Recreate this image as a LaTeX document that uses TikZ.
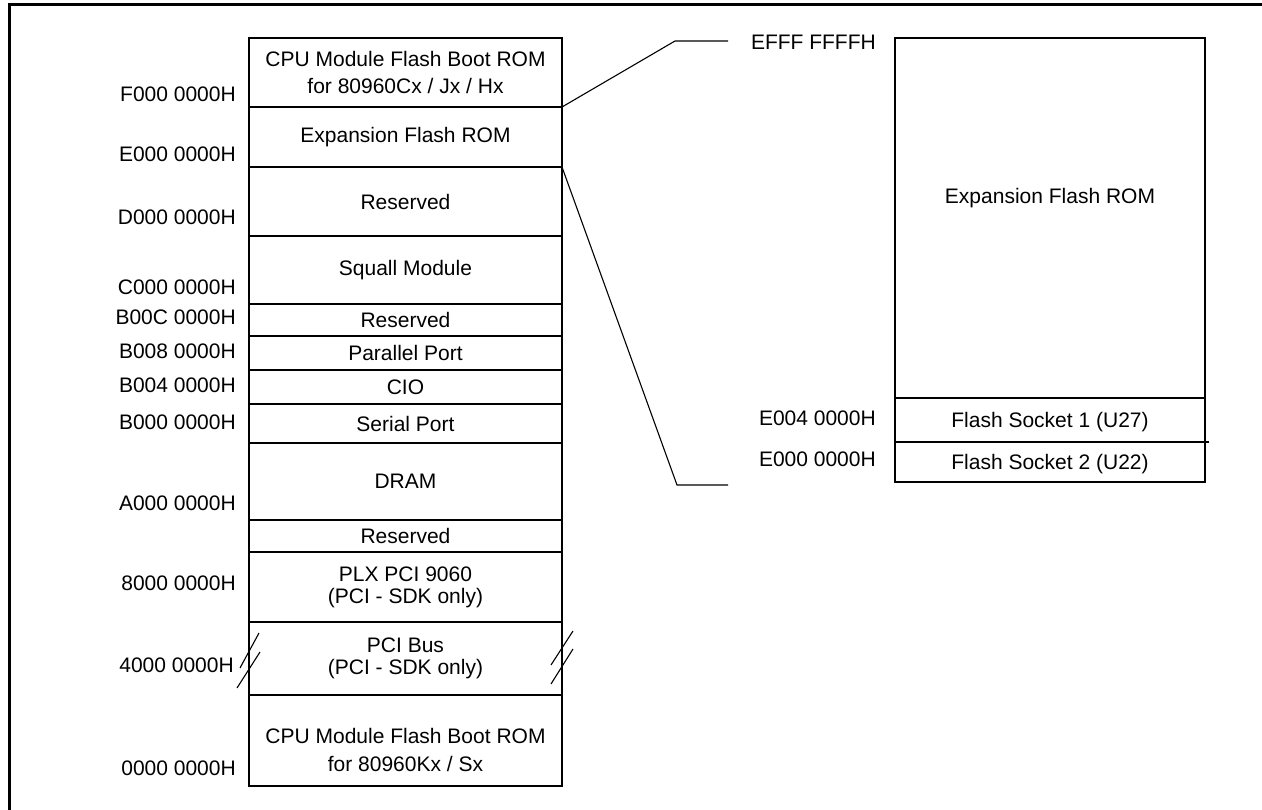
\documentclass[tikz,border=0pt]{standalone}
\usepackage{fontspec}
\setmainfont{Liberation Sans}
\newcommand\mapfont{\fontsize{21pt}{22pt}\selectfont}
\begin{document}
\begin{tikzpicture}[x=1pt,y=-1pt,
  region/.style={draw,line width=1.8pt,minimum width=313pt,inner sep=0pt,outer sep=0pt,anchor=north west,align=center,font=\mapfont},
  rregion/.style={draw,line width=1.8pt,minimum width=310pt,inner sep=0pt,outer sep=0pt,anchor=north west,align=center,font=\mapfont},
  addr/.style={anchor=mid east,inner sep=0pt,font=\mapfont},
  txt/.style={inner sep=0pt,align=center,font=\mapfont},
  conn/.style={line width=1.1pt},
  brk/.style={line width=1.1pt},
  frame/.style={line width=3pt}]
\useasboundingbox (0,0) rectangle (1262,810);
% outer frame
\coordinate (fbl) at (9,812);
\coordinate (ftl) at (9,5);
\coordinate (ftr) at (1264,5);
\draw[frame] (fbl) -- (ftl) -- (ftr);

% left memory map
\node[region,minimum height=69pt] (cpuh) at (249,38) {CPU Module Flash Boot ROM\\[5pt]for 80960Cx / Jx / Hx};
\node[region,minimum height=60pt] (exp) at (249,107) {Expansion Flash ROM};
\node[region,minimum height=69pt] (res1) at (249,167) {Reserved};
\node[region,minimum height=68pt] (squall) at (249,236) {Squall Module};
\node[region,minimum height=32pt] (res2) at (249,304) {Reserved};
\node[region,minimum height=34pt] (par) at (249,336) {Parallel Port};
\node[region,minimum height=34pt] (cio) at (249,370) {CIO};
\node[region,minimum height=39pt] (ser) at (249,404) {Serial Port};
\node[region,minimum height=77pt] (dram) at (249,443) {DRAM};
\node[region,minimum height=32pt] (res3) at (249,520) {Reserved};
\node[region,minimum height=70pt] (plx) at (249,552) {PLX PCI 9060\\(PCI - SDK only)};
\node[region,minimum height=73pt] (pci) at (249,622) {PCI Bus\\(PCI - SDK only)};
\node[region,minimum height=91pt] (cpul) at (249,695) {};
\node[txt] (cpultxt) at ([yshift=-9pt]cpul.center) {CPU Module Flash Boot ROM\\[6pt]for 80960Kx / Sx};

% addresses
\node[addr] (aF) at (236,99) {F000 0000H};
\node[addr] (aE) at (236,159) {E000 0000H};
\node[addr] (aD) at (236,222) {D000 0000H};
\node[addr] (aC) at (236,292) {C000 0000H};
\node[addr] (aBC) at (236,322) {B00C 0000H};
\node[addr] (aB8) at (236,356) {B008 0000H};
\node[addr] (aB4) at (236,390) {B004 0000H};
\node[addr] (aB0) at (236,427) {B000 0000H};
\node[addr] (aA) at (236,508) {A000 0000H};
\node[addr] (a8) at (236,588) {8000 0000H};
\node[addr] (a4) at (234,670) {4000 0000H};
\node[addr] (a0) at (236,773) {0000 0000H};

% break marks
\coordinate (bl1a) at (259,633); \coordinate (bl1b) at (240,668);
\coordinate (bl2a) at (260,652); \coordinate (bl2b) at (237,688);
\coordinate (br1a) at (573,631); \coordinate (br1b) at (551,665);
\coordinate (br2a) at (573,649); \coordinate (br2b) at (551,684);
\draw[brk] (bl1a) -- (bl1b);
\draw[brk] (bl2a) -- (bl2b);
\draw[brk] (br1a) -- (br1b);
\draw[brk] (br2a) -- (br2b);

% right detail
\node[rregion,minimum height=360pt] (rexp) at (895,38) {};
\node[txt] (rexptxt) at ([yshift=20pt]rexp.center) {Expansion Flash ROM};
\node[rregion,minimum height=44pt] (sock1) at (895,398) {};
\node[txt] (sock1txt) at ([yshift=-2pt]sock1.center) {Flash Socket 1 (U27)};
\node[rregion,minimum height=40pt] (sock2) at (895,442) {};
\node[txt] (sock2txt) at ([yshift=-2pt]sock2.center) {Flash Socket 2 (U22)};
\coordinate (sockext) at (1209,442);
\draw[line width=1.8pt] (sock1.south east) -- (sockext);

\node[addr] (rEF) at (876,47) {EFFF FFFFH};
\node[addr] (rE4) at (876,423) {E004 0000H};
\node[addr] (rE0) at (876,464) {E000 0000H};

% connectors
\coordinate (ct1) at (675,41);
\coordinate (ct2) at (728,41);
\coordinate (cb1) at (677,485);
\coordinate (cb2) at (728,485);
\draw[conn] (exp.north east) -- (ct1) -- (ct2);
\draw[conn] (exp.south east) -- (cb1) -- (cb2);
\end{tikzpicture}
\end{document}
